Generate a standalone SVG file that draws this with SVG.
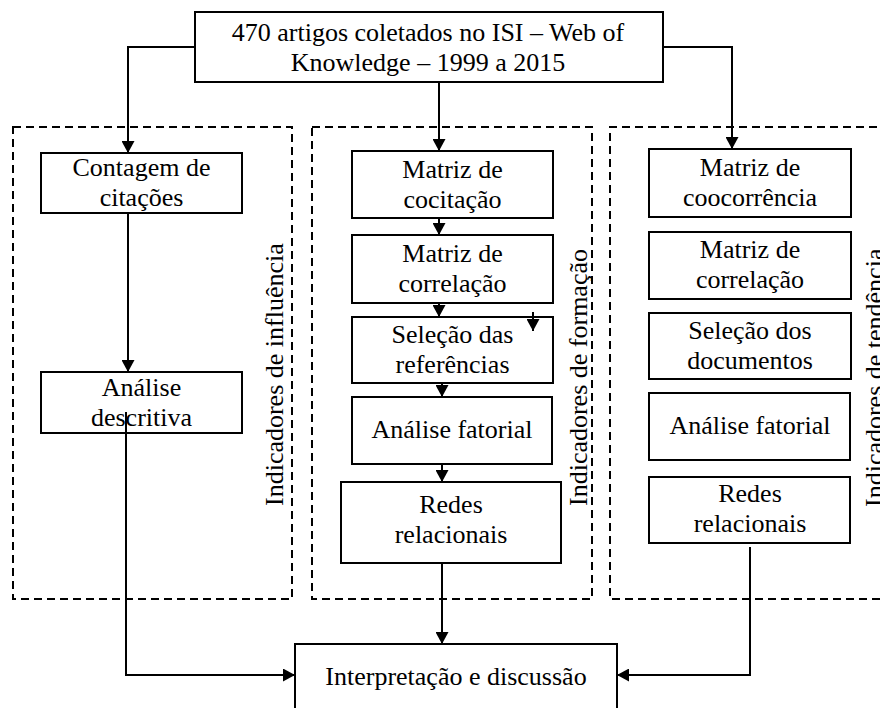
<svg xmlns="http://www.w3.org/2000/svg" width="880" height="708" viewBox="0 0 880 708">
  <style>
    .box { fill: #fff; stroke: #000; stroke-width: 2; }
    .region { fill: none; stroke: #000; stroke-width: 2; stroke-dasharray: 8 5; }
    .t { font-family: "Liberation Serif", "Times New Roman", serif; font-size: 26px; fill: #000; text-anchor: middle; }
    .side { font-family: "Liberation Serif", "Times New Roman", serif; font-size: 26px; fill: #000; text-anchor: start; }
    .wire { fill: none; stroke: #000; stroke-width: 2; }
  </style>
  <defs>
    <marker id="arrow" markerUnits="userSpaceOnUse" markerWidth="13" markerHeight="13" refX="12" refY="6.5" orient="auto">
      <path d="M0,0 L12,6.5 L0,13 Z" fill="#000"/>
    </marker>
  </defs>
  <rect width="880" height="708" fill="#fff"/>

  <!-- dashed indicator regions -->
  <g id="region-influencia">
    <rect class="region" x="13" y="127" width="279" height="472"/>
    <text class="side" transform="translate(283,506) rotate(-90)">Indicadores de influência</text>
  </g>
  <g id="region-formacao">
    <rect class="region" x="312" y="127" width="280" height="472"/>
    <text class="side" transform="translate(587,506) rotate(-90)">Indicadores de formação</text>
  </g>
  <g id="region-tendencia">
    <path class="region" d="M890,127 H610 V599 H890"/>
    <text class="side" transform="translate(883,507) rotate(-90)">Indicadores de tendência</text>
  </g>

  <!-- source -->
  <g id="n-artigos">
    <rect class="box" x="195" y="12" width="468" height="70"/>
    <text class="t" x="428" y="41">470 artigos coletados no ISI – Web of</text>
    <text class="t" x="428" y="71">Knowledge – 1999 a 2015</text>
  </g>

  <!-- influence column -->
  <g id="n-contagem">
    <rect class="box" x="41" y="153" width="201" height="60"/>
    <text class="t" x="141.5" y="176">Contagem de</text>
    <text class="t" x="141.5" y="206">citações</text>
  </g>
  <g id="n-descritiva">
    <rect class="box" x="41" y="372" width="201" height="61"/>
    <text class="t" x="141.5" y="396">Análise</text>
    <text class="t" x="141.5" y="426">descritiva</text>
  </g>

  <!-- formation column -->
  <g id="n-cocitacao">
    <rect class="box" x="352" y="151" width="201" height="67"/>
    <text class="t" x="452.5" y="178">Matriz de</text>
    <text class="t" x="452.5" y="208">cocitação</text>
  </g>
  <g id="n-correlacao-f">
    <rect class="box" x="352" y="235" width="201" height="68"/>
    <text class="t" x="452.5" y="262">Matriz de</text>
    <text class="t" x="452.5" y="292">correlação</text>
  </g>
  <g id="n-selecao-ref">
    <rect class="box" x="352" y="317" width="201" height="66"/>
    <text class="t" x="452.5" y="343">Seleção das</text>
    <text class="t" x="452.5" y="373">referências</text>
  </g>
  <g id="n-fatorial-f">
    <rect class="box" x="352" y="397" width="200" height="67"/>
    <text class="t" x="452" y="438">Análise fatorial</text>
  </g>
  <g id="n-redes-f">
    <rect class="box" x="341" y="482" width="220" height="81"/>
    <text class="t" x="451" y="513">Redes</text>
    <text class="t" x="451" y="543">relacionais</text>
  </g>

  <!-- trend column -->
  <g id="n-coocorrencia">
    <rect class="box" x="649" y="149" width="202" height="68"/>
    <text class="t" x="750" y="176">Matriz de</text>
    <text class="t" x="750" y="206">coocorrência</text>
  </g>
  <g id="n-correlacao-t">
    <rect class="box" x="649" y="232" width="202" height="67"/>
    <text class="t" x="750" y="258">Matriz de</text>
    <text class="t" x="750" y="288">correlação</text>
  </g>
  <g id="n-selecao-doc">
    <rect class="box" x="649" y="313" width="202" height="66"/>
    <text class="t" x="750" y="339">Seleção dos</text>
    <text class="t" x="750" y="369">documentos</text>
  </g>
  <g id="n-fatorial-t">
    <rect class="box" x="649" y="393" width="201" height="67"/>
    <text class="t" x="750" y="434">Análise fatorial</text>
  </g>
  <g id="n-redes-t">
    <rect class="box" x="649" y="477" width="201" height="66"/>
    <text class="t" x="750" y="502">Redes</text>
    <text class="t" x="750" y="532">relacionais</text>
  </g>

  <!-- result -->
  <g id="n-interpretacao">
    <rect class="box" x="295" y="644" width="322" height="80"/>
    <text class="t" x="456" y="685">Interpretação e discussão</text>
  </g>

  <!-- connectors -->
  <g id="connectors">
    <path class="wire" d="M195,47 H128 V153" marker-end="url(#arrow)"/>
    <path class="wire" d="M439,82 V151" marker-end="url(#arrow)"/>
    <path class="wire" d="M663,47 H732 V149" marker-end="url(#arrow)"/>

    <path class="wire" d="M128,213 V372" marker-end="url(#arrow)"/>
    <path class="wire" d="M126,412 V675 H295" marker-end="url(#arrow)"/>

    <path class="wire" d="M439,218 V235" marker-end="url(#arrow)"/>
    <path class="wire" d="M439,303 V317" marker-end="url(#arrow)"/>
    <path class="wire" d="M533,312 V331" marker-end="url(#arrow)"/>
    <path class="wire" d="M442,383 V397" marker-end="url(#arrow)"/>
    <path class="wire" d="M442,464 V482" marker-end="url(#arrow)"/>
    <path class="wire" d="M442,563 V644" marker-end="url(#arrow)"/>

    <path class="wire" d="M750,547 V675 H617" marker-end="url(#arrow)"/>
  </g>
</svg>
